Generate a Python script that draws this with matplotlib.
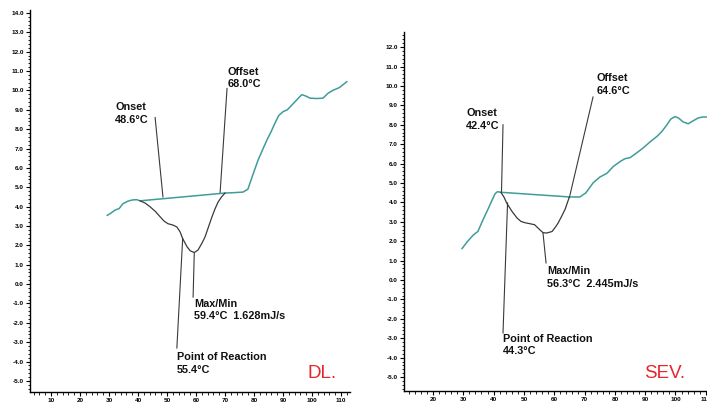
import matplotlib
matplotlib.use("Agg")
import matplotlib.pyplot as plt
from matplotlib.ticker import MultipleLocator, FormatStrFormatter

plt.rcParams['font.family'] = ['Liberation Sans', 'DejaVu Sans']

TEAL = '#3f9c98'
DARK = '#3a3a3a'
RED = '#e8242c'

# DL. sample
dl_teal_x = [29.4, 30.5, 32.1, 33.5, 34.8, 36.5, 37.9, 39.5, 40.7, 70.0, 73.0, 76.2,
             77.9, 79.5, 81.4, 83.0, 84.5, 86.0, 87.2, 88.5, 90.0, 91.5, 93.1, 95.0,
             96.5, 98.0, 99.3, 101.5, 103.8, 105.5, 107.2, 109.5, 112.0]
dl_teal_y = [3.55, 3.65, 3.82, 3.9, 4.15, 4.28, 4.34, 4.36, 4.3, 4.7, 4.72, 4.75,
             4.9, 5.6, 6.4, 6.95, 7.45, 7.9, 8.3, 8.7, 8.9, 9.0, 9.25, 9.55,
             9.78, 9.7, 9.6, 9.58, 9.6, 9.85, 10.0, 10.15, 10.45]
dl_dip_x = [40.7, 42.5, 44.1, 46.0, 47.6, 49.0, 50.3, 52.0, 53.4, 54.5, 55.4, 56.9,
            58.0, 59.4, 60.7, 62.0, 63.1, 64.3, 65.5, 66.6, 67.6, 68.8, 70.0]
dl_dip_y = [4.3, 4.18, 4.0, 3.75, 3.48, 3.25, 3.12, 3.05, 2.95, 2.7, 2.35, 1.93,
            1.72, 1.63, 1.76, 2.1, 2.43, 2.95, 3.47, 3.9, 4.23, 4.5, 4.7]

# SEV. sample
sev_teal_x = [29.6, 31.2, 33.3, 34.8, 36.5, 38.0, 39.5, 40.5, 41.3, 42.4, 65.0, 68.5,
              70.5, 72.8, 75.0, 77.4, 79.5, 81.7, 83.3, 85.0, 87.2, 89.3, 91.5, 93.9,
              95.5, 97.2, 98.5, 99.9, 101.0, 102.5, 104.2, 105.8, 107.5, 109.0, 110.5]
sev_teal_y = [1.62, 1.95, 2.32, 2.5, 3.1, 3.6, 4.12, 4.45, 4.55, 4.52, 4.28, 4.28,
              4.5, 5.0, 5.3, 5.5, 5.85, 6.1, 6.25, 6.3, 6.55, 6.8, 7.1, 7.4,
              7.65, 8.0, 8.3, 8.42, 8.35, 8.15, 8.05, 8.2, 8.35, 8.4, 8.4]
sev_dip_x = [42.4, 43.5, 44.3, 46.0, 47.7, 49.0, 50.4, 52.0, 53.5, 55.3, 56.3, 57.5,
             59.3, 60.5, 61.3, 62.5, 63.6, 65.0]
sev_dip_y = [4.52, 4.25, 3.97, 3.55, 3.2, 3.02, 2.95, 2.9, 2.85, 2.58, 2.44, 2.42,
             2.5, 2.75, 2.94, 3.3, 3.65, 4.28]

# annotations: (text, text x, text y, line start, line end)
dl_notes = [
    ("Onset\n48.6\u00b0C", 32.1, 8.8, (45.9, 8.6), (48.6, 4.5)),
    ("Offset\n68.0\u00b0C", 71.0, 10.65, (70.7, 10.1), (68.3, 4.7)),
    ("Max/Min\n59.4\u00b0C  1.628mJ/s", 59.3, -1.34, (59.4, 1.6), (59.0, -0.67)),
    ("Point of Reaction\n55.4\u00b0C", 53.4, -4.1, (55.4, 2.35), (53.4, -3.3)),
]
sev_notes = [
    ("Onset\n42.4\u00b0C", 30.9, 8.27, (43.1, 8.0), (42.6, 4.52)),
    ("Offset\n64.6\u00b0C", 74.1, 10.07, (72.8, 9.43), (65.0, 4.25)),
    ("Max/Min\n56.3\u00b0C  2.445mJ/s", 57.6, 0.13, (56.3, 2.42), (57.3, 0.88)),
    ("Point of Reaction\n44.3\u00b0C", 43.1, -3.35, (44.6, 3.97), (43.1, -2.73)),
]

fig = plt.figure(figsize=(7.07, 4.05), dpi=100)
ax1 = fig.add_axes([30/707, 1-392/405, 320/707, 382/405])
ax2 = fig.add_axes([404/707, 1-391/405, 326/707, 359/405])


def style(ax, xlim, ylim, yticks, xticks):
    ax.set_xlim(*xlim)
    ax.set_ylim(*ylim)
    for s in ('top', 'right'):
        ax.spines[s].set_visible(False)
    for s in ('left', 'bottom'):
        ax.spines[s].set_linewidth(1.0)
    ax.set_yticks(yticks)
    ax.set_xticks(xticks)
    ax.yaxis.set_minor_locator(MultipleLocator(0.2))
    ax.xaxis.set_minor_locator(MultipleLocator(2))
    ax.yaxis.set_major_formatter(FormatStrFormatter('%.1f'))
    ax.tick_params(which='major', length=3, width=0.8, labelsize=4.6, pad=1.5)
    ax.tick_params(which='minor', length=1.8, width=0.6)
    for lab in ax.get_xticklabels() + ax.get_yticklabels():
        lab.set_fontweight('bold')


def draw(ax, tx, ty, dx, dy, notes, tag, tag_pos):
    ax.plot(tx, ty, color=TEAL, lw=1.1, zorder=3)
    ax.plot(dx, dy, color=DARK, lw=0.9, zorder=3)
    for text, x, y, p0, p1 in notes:
        ax.plot([p0[0], p1[0]], [p0[1], p1[1]], color=DARK, lw=0.8, zorder=2)
        ax.text(x, y, text, fontsize=7.8, fontweight='bold', ha='left', va='center',
                linespacing=1.3, color='#111111')
    fig.text(tag_pos[0], tag_pos[1], tag, color=RED, fontsize=13.5,
             ha='right', va='center')


style(ax1, (2.76, 113.1), (-5.57, 14.15), range(-5, 15), range(10, 111, 10))
draw(ax1, dl_teal_x, dl_teal_y, dl_dip_x, dl_dip_y, dl_notes, "DL.",
     (337/707, 1-373/405))

style(ax2, (10.43, 118.0), (-5.72, 12.78), range(-5, 13), range(20, 111, 10))
draw(ax2, sev_teal_x, sev_teal_y, sev_dip_x, sev_dip_y, sev_notes, "SEV.",
     (685/707, 1-373/405))

fig.savefig("out.png", dpi=100)
